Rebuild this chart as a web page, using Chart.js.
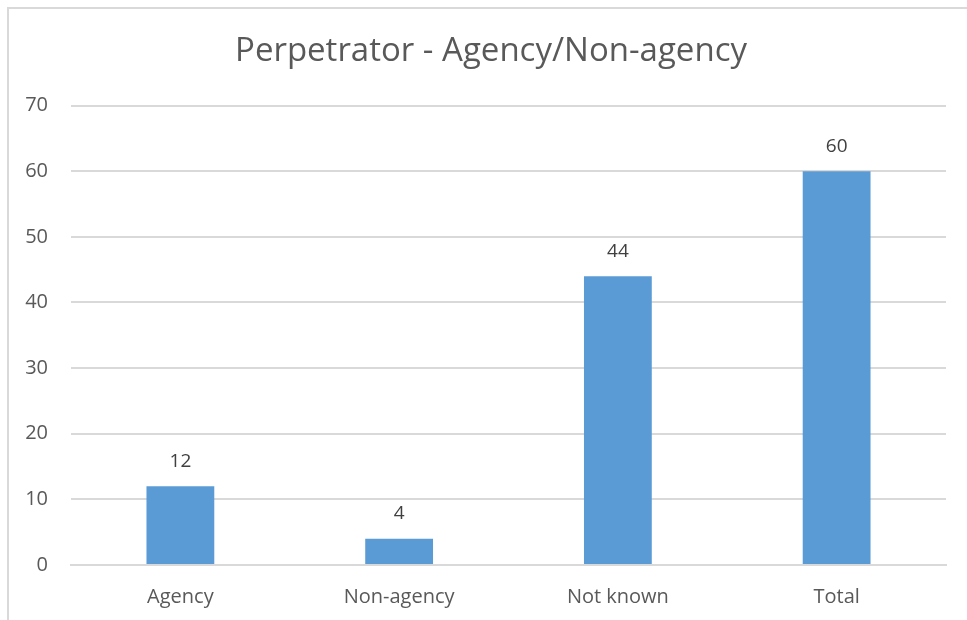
<!DOCTYPE html>
<html>
<head>
<meta charset="UTF-8">
<title>Perpetrator - Agency/Non-agency</title>
<script src="https://cdn.jsdelivr.net/npm/chart.js@4/dist/chart.umd.min.js"></script>
<style>
	html, body { margin: 0; padding: 0; background: #fff; overflow: hidden; }
	#frame { position: absolute; left: 7px; top: 7px; width: 980px; height: 640px; border: 2px solid #d9d9d9; box-sizing: border-box; }
	#wrap { position: absolute; left: 0; top: 0; width: 967px; height: 620px; }
</style>
</head>
<body>
	<div id="frame"></div>
	<div id="wrap"><canvas id="myChart"></canvas></div>

	<script>
		let categories = ['Agency', 'Non-agency', 'Not known', 'Total'];
		let counts = [12, 4, 44, 60];
		let yTicks = [0, 10, 20, 30, 40, 50, 60, 70];

		const textFont = "'Open Sans', 'Noto Sans', sans-serif";

		// value above each bar
		const barValues = {
			id: 'barValues',
			afterDatasetsDraw(chart) {
				const ctx = chart.ctx;
				const meta = chart.getDatasetMeta(0);
				ctx.save();
				ctx.font = '19px ' + textFont;
				ctx.fillStyle = '#404040';
				ctx.textAlign = 'center';
				ctx.textBaseline = 'middle';
				meta.data.forEach(function(bar, i) {
					ctx.fillText(String(counts[i]), bar.x, bar.y - 25);
				});
				ctx.restore();
			}
		};

		// centre the title over the whole frame, not just the padded area
		const titleShift = {
			id: 'titleShift',
			afterLayout(chart) {
				chart.titleBlock.left += 18;
				chart.titleBlock.right += 18;
			}
		};

		new Chart('myChart', {
			type: 'bar',
			data: {
				labels: categories,
				datasets: [{
					data: counts,
					backgroundColor: '#5b9bd5',
					barPercentage: 0.31,
					categoryPercentage: 1
				}]
			},
			options: {
				responsive: true,
				maintainAspectRatio: false,
				animation: false,
				layout: { padding: { left: 0, right: 21, top: 0, bottom: 0 } },
				plugins: {
					legend: { display: false },
					tooltip: { enabled: false },
					title: {
						display: true,
						text: 'Perpetrator - Agency/Non-agency',
						color: '#595959',
						font: { family: textFont, size: 33, weight: 'normal', lineHeight: 1.2 },
						padding: { top: 32, bottom: 34 }
					}
				},
				scales: {
					x: {
						grid: { display: false, drawTicks: false },
						border: { color: '#d9d9d9', width: 2 },
						ticks: { color: '#595959', font: { family: textFont, size: 20 }, padding: 20 },
						afterFit: function(scale) { scale.height = 55; }
					},
					y: {
						min: 0,
						max: 70,
						afterBuildTicks: function(scale) { scale.ticks = yTicks.map(v => ({ value: v })); },
						grid: { color: '#d9d9d9', lineWidth: 2, drawTicks: false },
						border: { display: false },
						ticks: { color: '#595959', font: { family: textFont, size: 20 }, padding: 23 },
						afterFit: function(scale) { scale.width = 71; }
					}
				}
			},
			plugins: [barValues, titleShift]
		});
	</script>
</body>
</html>
